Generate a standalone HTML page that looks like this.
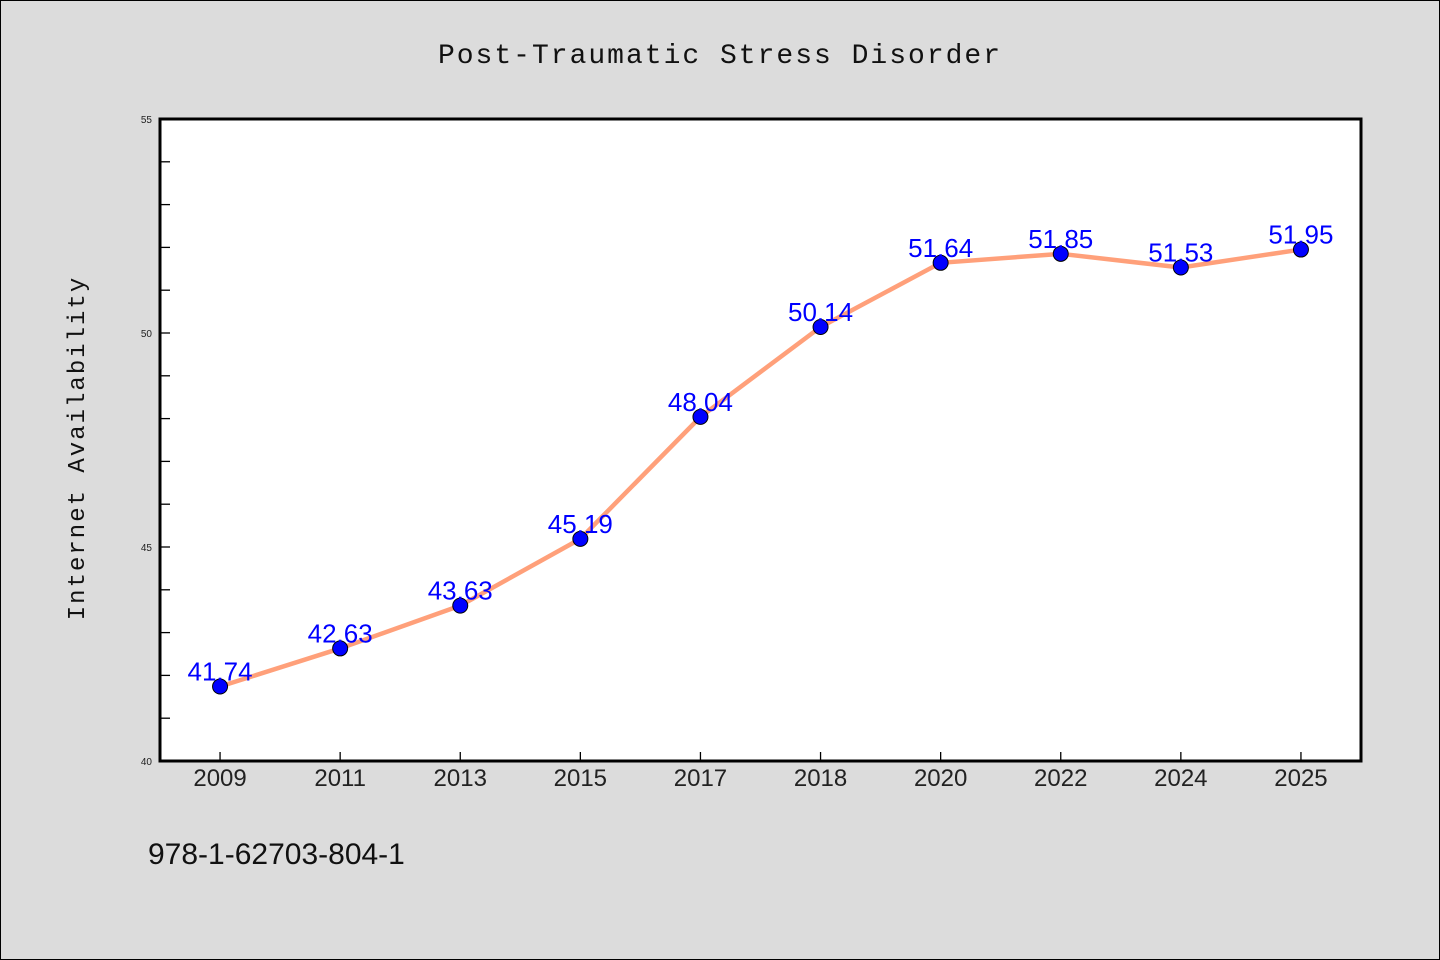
<!DOCTYPE html>
<html><head><meta charset="utf-8"><style>
body{margin:0;background:#dcdcdc}
svg{display:block}
</style></head><body>
<svg width="1440" height="960" xmlns="http://www.w3.org/2000/svg">
<rect x="0.5" y="0.5" width="1439" height="959" fill="#dcdcdc" stroke="#000"/>
<text x="720" y="63" text-anchor="middle" font-family="WenQuanYi Zen Hei, Liberation Mono, monospace" font-size="28" letter-spacing="2" fill="#111">Post-Traumatic Stress Disorder</text>
<rect x="160" y="119" width="1201" height="642" fill="#fff"/>
<g id="axes"></g>
<rect x="160" y="119" width="1201" height="642" fill="none" stroke="#000" stroke-width="3"/>
<text transform="translate(84,448) rotate(-90)" text-anchor="middle" font-family="WenQuanYi Zen Hei, Liberation Mono, monospace" font-size="24" letter-spacing="2" fill="#111">Internet Availability</text>
<text x="148" y="864" font-family="WenQuanYi Zen Hei, Liberation Sans, sans-serif" font-size="30" fill="#111">978-1-62703-804-1</text>
<g id="series"></g>
</svg>
<script>
const categories=["2009","2011","2013","2015","2017","2018","2020","2022","2024","2025"];
const values=[41.74,42.63,43.63,45.19,48.04,50.14,51.64,51.85,51.53,51.95];
const labels=["41.74","42.63","43.63","45.19","48.04","50.14","51.64","51.85","51.53","51.95"];
const yTicks=[40,45,50,55];
const yMin=40,yMax=55;
const L=160,R=1361,T=119,B=761;
const NS="http://www.w3.org/2000/svg";
const bw=(R-L)/categories.length;
const xs=i=>L+bw*(i+0.5);
const ys=v=>B-(v-yMin)/(yMax-yMin)*(B-T);
function mk(tag,attrs,parent){const e=document.createElementNS(NS,tag);for(const k in attrs)e.setAttribute(k,attrs[k]);parent.appendChild(e);return e;}
const ax=document.getElementById('axes');
for(let v=yMin+1;v<yMax;v++){
 const t=mk('line',{x1:L,x2:L+10,y1:ys(v),y2:ys(v),stroke:'#000','stroke-width':1.3},ax);
 
 
}
yTicks.forEach(v=>{
 const t=mk('text',{x:L-8,y:ys(v)+4,'text-anchor':'end','font-family':'WenQuanYi Zen Hei, Liberation Sans, sans-serif','font-size':10,fill:'#222'},ax);
 t.textContent=v;
 
 
});
categories.forEach((c,i)=>{
 const t=mk('line',{x1:xs(i),x2:xs(i),y1:B,y2:B-9,stroke:'#000','stroke-width':1.3},ax);
 
 
 const l=mk('text',{x:xs(i),y:B+25,'text-anchor':'middle','font-family':'WenQuanYi Zen Hei, Liberation Sans, sans-serif','font-size':24,fill:'#222'},ax);
 l.textContent=c;
 
 
});
const s=document.getElementById('series');
const line=mk('polyline',{points:values.map((v,i)=>xs(i)+','+ys(v)).join(' '),fill:'none',stroke:'#ffa07a','stroke-width':4.5,'stroke-linejoin':'round'},s);


values.forEach((v,i)=>{
 const p=mk('circle',{cx:xs(i),cy:ys(v),r:7.5,fill:'#0000ff',stroke:'#000','stroke-width':1},s);
 
 
 const t=mk('text',{x:xs(i),y:ys(v)-6,'text-anchor':'middle','font-family':'Liberation Sans, sans-serif','font-size':26,fill:'#0000ff'},s);
 t.textContent=labels[i];
 
 
});
</script>
</body></html>
